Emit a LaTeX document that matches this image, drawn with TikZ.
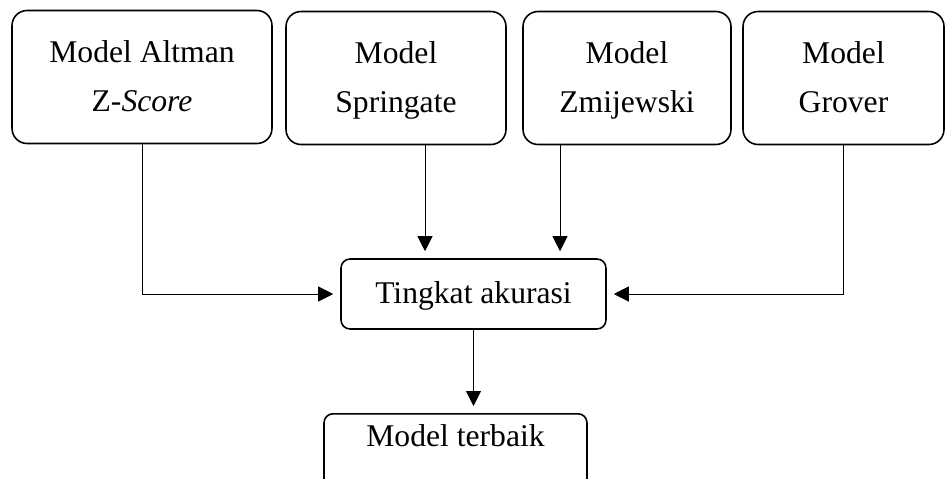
\documentclass[tikz,border=0pt]{standalone}
\usepackage{fontspec}
\setmainfont{Liberation Serif}
\usetikzlibrary{arrows.meta}

\begin{document}
\begin{tikzpicture}[x=0.02cm,y=-0.02cm,
    font=\fontsize{18}{28.45}\selectfont,
    modelbox/.style={draw,line width=0.9pt,rounded corners=0.3cm,align=center,
        minimum height=2.66cm,inner sep=0pt},
    resultbox/.style={draw,line width=0.9pt,rounded corners=0.18cm,inner sep=0pt},
    arr/.style={line width=0.5pt,-{Triangle[length=0.3cm,width=0.3cm]},shorten >=0.14cm}]
        \useasboundingbox (0,0) rectangle (946,479);
        \clip (0,0) rectangle (946,479);
        % top row
        \node[modelbox,minimum width=5.2cm] (altman) at (142,77) {\strut Model Altman\\\strut Z-\textit{Score}};
        \node[modelbox,minimum width=4.4cm] (springate) at (396,78) {\strut Model\\\strut Springate};
        \node[modelbox,minimum width=4.16cm] (zmijewski) at (627,78) {\strut Model\\\strut Zmijewski};
        \node[modelbox,minimum width=4.02cm] (grover) at (843.5,78) {\strut Model\\\strut Grover};
        % middle and bottom
        \node[resultbox,minimum width=5.3cm,minimum height=1.4cm] (akurasi) at (473.5,294) {\strut Tingkat akurasi};
        \node[resultbox,minimum width=5.26cm,anchor=north,text height=0.66cm,text depth=1cm] (terbaik) at (455.5,413) {Model terbaik};
        \coordinate (s) at ([xshift=0.58cm]springate.south);
        \coordinate (z) at ([xshift=-1.34cm]zmijewski.south);
        \draw[arr] (altman.south) |- (akurasi.west);
        \draw[arr] (s) -- (s |- akurasi.north);
        \draw[arr] (z) -- (z |- akurasi.north);
        \draw[arr] (grover.south) |- (akurasi.east);
        \draw[arr] (akurasi.south) -- (akurasi.south |- terbaik.north);
    \end{tikzpicture}
\end{document}
